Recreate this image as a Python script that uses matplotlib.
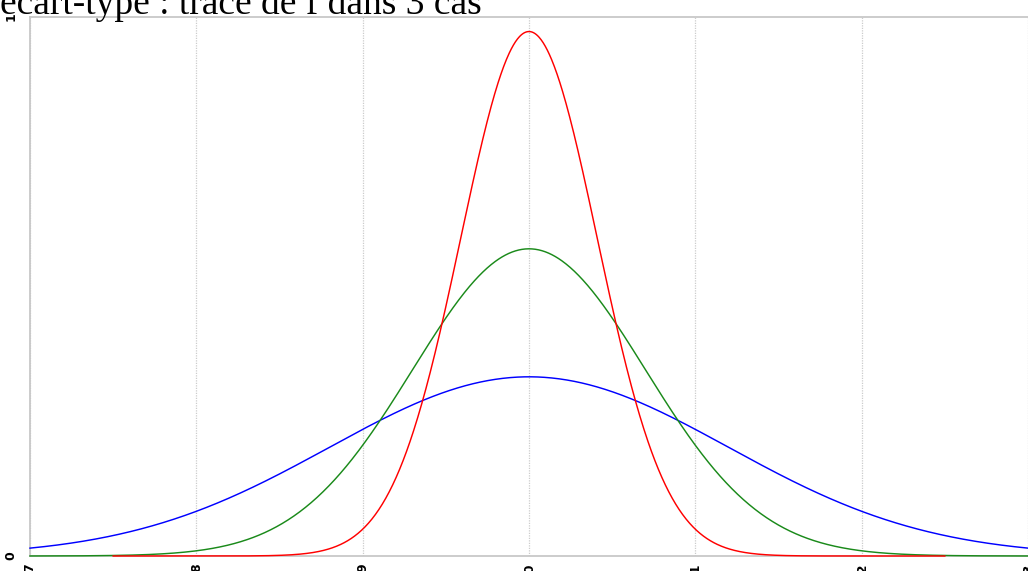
import numpy as np
import matplotlib
matplotlib.use("Agg")
import matplotlib.pyplot as plt

# Data
title = "écart-type : tracé de f dans 3 cas"
mean = 10.0
sigmas = [1.2, 0.7, 0.41]            # blue, green, red
x_starts = [7.0, 7.0, 7.5]
x_ends = [13.0, 13.0, 12.5]
colors = ["#0000ff", "#1a8a1a", "#ff0000"]
x_ticks = [7, 8, 9, 10, 11, 12, 13]
y_ticks = [0, 1]

W, H = 1028, 571
fig = plt.figure(figsize=(W / 100, H / 100), dpi=100)
left, right, top, bottom = 30, 1028, 17, 556
ax = fig.add_axes([left / W, (H - bottom) / H, (right - left) / W, (bottom - top) / H])

for s, x0, x1, c in zip(sigmas, x_starts, x_ends, colors):
    xs = np.linspace(x0, x1, 1200)
    ys = np.exp(-0.5 * ((xs - mean) / s) ** 2) / (s * np.sqrt(2 * np.pi))
    ax.plot(xs, ys, color=c, lw=1.05, zorder=3, clip_on=False)

ax.set_xlim(7, 13)
ax.set_ylim(0, 1)
ax.set_xticks(x_ticks)
ax.set_xticklabels([str(t) for t in x_ticks], rotation=90, fontsize=9,
                   fontfamily="DejaVu Sans", fontweight="bold")
ax.set_yticks(y_ticks)
ax.set_yticklabels([str(t) for t in y_ticks], rotation=90, fontsize=9,
                   fontfamily="DejaVu Sans", fontweight="bold", va="center")
ax.tick_params(axis="x", length=0, pad=5)
ax.tick_params(axis="y", length=0, pad=9)
for t in ax.get_xticklabels():
    t.set_verticalalignment("top")

ax.grid(axis="x", color="#cccccc", linestyle=(0, (1, 1)), lw=0.9)
ax.grid(axis="y", visible=False)
ax.set_axisbelow(True)
for side in ["left", "bottom", "top"]:
    ax.spines[side].set_color("#c8c8c8")
    ax.spines[side].set_linewidth(1.3)
ax.spines["right"].set_visible(False)

fig.text(0, (H - 14) / H, title, fontsize=27, fontfamily="Liberation Serif",
         ha="left", va="baseline")

fig.savefig("out.png", dpi=100)
